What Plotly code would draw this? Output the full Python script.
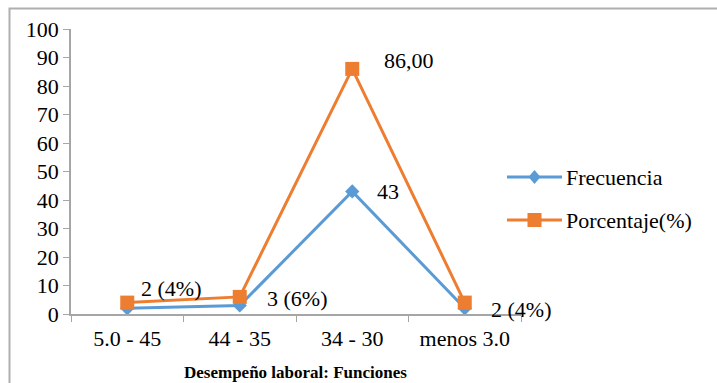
import plotly.graph_objects as go

categorias = ["5.0 - 45", "44 - 35", "34 - 30", "menos 3.0"]
frecuencia = [2, 3, 43, 2]
porcentaje = [4, 6, 86, 4]
series_nombres = ["Frecuencia", "Porcentaje(%)"]
y_ticks = [0, 10, 20, 30, 40, 50, 60, 70, 80, 90, 100]

AZUL = "#5B9BD5"
NARANJA = "#ED7D31"
FUENTE = "Liberation Serif"

W, H = 717, 383
ML, MR, MT, MB = 71, 196, 29, 69
PW, PH = W - ML - MR, H - MT - MB


def px_x(px):
    return (px - ML) / PW


def px_y(py):
    return (H - MB - py) / PH


fig = go.Figure()
fig.add_trace(go.Scatter(
    x=categorias, y=frecuencia, mode="lines+markers", name=series_nombres[0],
    line=dict(color=AZUL, width=3),
    marker=dict(symbol="diamond", size=11, color=AZUL),
    showlegend=False, cliponaxis=False,
))
fig.add_trace(go.Scatter(
    x=categorias, y=porcentaje, mode="lines+markers", name=series_nombres[1],
    line=dict(color=NARANJA, width=3),
    marker=dict(symbol="square", size=14, color=NARANJA),
    showlegend=False, cliponaxis=False,
))

# etiquetas de datos
etiquetas = [
    (0, porcentaje[0], f"{frecuencia[0]} ({porcentaje[0]}%)", 12, 14),
    (1, frecuencia[1], f"{frecuencia[1]} ({porcentaje[1]}%)", 25, 7),
    (2, porcentaje[2], f"{porcentaje[2]:.2f}".replace(".", ","), 30, 8),
    (2, frecuencia[2], f"{frecuencia[2]}", 23, 0),
    (3, frecuencia[3], f"{frecuencia[3]} ({porcentaje[3]}%)", 24, -1),
]
anns = []
for i, y, txt, dx, dy in etiquetas:
    anns.append(dict(
        x=categorias[i], y=y, xref="x", yref="y", text=txt, showarrow=False,
        xanchor="left", yanchor="middle", xshift=dx, yshift=dy,
        font=dict(family=FUENTE, size=22, color="black"),
    ))

# leyenda
shapes = []
for k, (nombre, color, cy) in enumerate([
    (series_nombres[0], AZUL, 177), (series_nombres[1], NARANJA, 220)
]):
    shapes.append(dict(
        type="line", xref="paper", yref="paper",
        x0=px_x(507), x1=px_x(562), y0=px_y(cy), y1=px_y(cy),
        line=dict(color=color, width=3),
    ))
    if k == 0:
        path = "M0,-7 L6,0 L0,7 L-6,0 Z"
    else:
        path = "M-7,-7 L7,-7 L7,7 L-7,7 Z"
    shapes.append(dict(
        type="path", xref="paper", yref="paper",
        xsizemode="pixel", ysizemode="pixel",
        xanchor=px_x(534.5), yanchor=px_y(cy), path=path,
        fillcolor=color, line=dict(color=color, width=0),
    ))
    anns.append(dict(
        x=px_x(564), y=px_y(cy), xref="paper", yref="paper", text=nombre,
        showarrow=False, xanchor="left", yanchor="middle",
        font=dict(family=FUENTE, size=22, color="black"),
    ))

# marco exterior
shapes.append(dict(
    type="rect", xref="paper", yref="paper", layer="below",
    x0=px_x(9.5), x1=px_x(730), y0=px_y(8.5), y1=px_y(400),
    line=dict(color="#AFAFAF", width=2), fillcolor="rgba(0,0,0,0)",
))

anns.append(dict(
    x=px_x(295), y=px_y(372), xref="paper", yref="paper",
    text="<b>Desempeño laboral: Funciones</b>", showarrow=False,
    xanchor="center", yanchor="middle",
    font=dict(family=FUENTE, size=17, color="black"),
))

fig.update_layout(
    width=W, height=H,
    margin=dict(l=ML, r=MR, t=MT, b=MB, pad=0),
    paper_bgcolor="white", plot_bgcolor="white",
    annotations=anns, shapes=shapes,
    xaxis=dict(
        type="category", range=[-0.5, 3.5], tickson="boundaries",
        showline=True, linecolor="#A6A6A6", linewidth=1.5,
        ticks="outside", ticklen=6, tickcolor="#A6A6A6",
        showgrid=False, zeroline=False, ticklabelstandoff=4,
        tickfont=dict(family=FUENTE, size=22, color="black"),
    ),
    yaxis=dict(
        range=[0, 100], tickvals=y_ticks, showline=True,
        linecolor="#A6A6A6", linewidth=1.5, ticks="outside", ticklen=6,
        tickcolor="#A6A6A6", showgrid=False, zeroline=False,
        tickfont=dict(family=FUENTE, size=22, color="black"),
    ),
)

fig.write_html("out.html")
